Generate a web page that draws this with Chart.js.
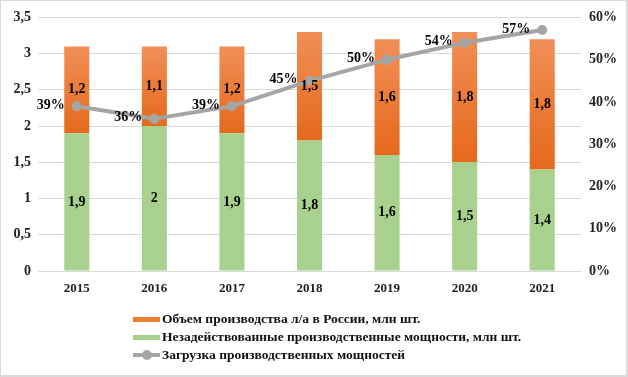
<!DOCTYPE html>
<html>
<head>
<meta charset="utf-8">
<script src="https://cdn.jsdelivr.net/npm/chart.js@4.4.1/dist/chart.umd.min.js"></script>
<style>
  html, body { margin: 0; padding: 0; background: #fff; }
  #wrap { position: relative; width: 628px; height: 377px; box-sizing: border-box; border: 2px solid #d9d9d9; border-left-width: 1px; border-top-width: 1px; }
  #chart { position: absolute; left: 0; top: 0; }
  #legend { position: absolute; left: 132px; top: 309px; font: bold 13.5px "Liberation Serif", "Times New Roman", serif; color: #111; }
  .item { height: 18px; line-height: 18px; display: flex; align-items: center; }
  .sw { width: 27px; height: 5px; margin-right: 2px; }
  .ln { width: 27px; height: 4px; margin-right: 2px; background: #a5a5a5; position: relative; }
  .ln::after { content: ''; position: absolute; left: 9px; top: -3px; width: 10px; height: 10px; border-radius: 50%; background: #a5a5a5; }
</style>
</head>
<body>
<div id="wrap">
  <canvas id="chart" width="625" height="374"></canvas>
  <div id="legend">
    <div class="item"><span class="sw" style="background:#ed7d31"></span>Объем производства л/а в России, млн шт.</div>
    <div class="item"><span class="sw" style="background:#a9d18e"></span>Незадействованные производственные мощности, млн шт.</div>
    <div class="item"><span class="ln"></span>Загрузка производственных мощностей</div>
  </div>
</div>
<script>
// ---- данные ----
const years = ['2015', '2016', '2017', '2018', '2019', '2020', '2021'];
const produced = [1.2, 1.1, 1.2, 1.5, 1.6, 1.8, 1.8];   // объем производства, млн шт.
const unused = [1.9, 2, 1.9, 1.8, 1.6, 1.5, 1.4];        // незадействованные мощности, млн шт.
const load = [39, 36, 39, 45, 50, 54, 57];               // загрузка, %

const labelFont = 'bold 14px "Liberation Serif", "Times New Roman", serif';
const fmt = v => String(v).replace('.', ',');

// градиент для оранжевых столбцов
function orangeFill(c) {
  const chart = c.chart;
  if (!chart.chartArea || c.type !== 'data') return '#ed7d31';
  const y = chart.scales.y;
  const i = c.dataIndex;
  const top = y.getPixelForValue(unused[i] + produced[i]);
  const bot = y.getPixelForValue(unused[i]);
  const g = chart.ctx.createLinearGradient(0, top, 0, bot);
  g.addColorStop(0, '#f18f57');
  g.addColorStop(1, '#e5691c');
  return g;
}

// подписи значений
const valueLabels = {
  id: 'valueLabels',
  afterDatasetsDraw(chart) {
    const ctx = chart.ctx;
    ctx.save();
    ctx.font = labelFont;
    ctx.fillStyle = '#000';
    chart.data.datasets.forEach((ds, di) => {
      const meta = chart.getDatasetMeta(di);
      meta.data.forEach((el, i) => {
        if (ds.type === 'line') {
          ctx.textAlign = 'right';
          ctx.textBaseline = 'middle';
          ctx.fillText(ds.data[i] + '%', el.x - 12, el.y - 1);
        } else {
          const p = el.getCenterPoint();
          ctx.textAlign = 'center';
          ctx.textBaseline = 'middle';
          ctx.fillText(fmt(ds.data[i]), p.x, p.y);
        }
      });
    });
    ctx.restore();
  }
};

const tickFont = { family: '"Liberation Serif", "Times New Roman", serif', size: 14, weight: 'bold' };

new Chart(document.getElementById('chart'), {
  data: {
    labels: years,
    datasets: [
      {
        type: 'line',
        label: 'Загрузка производственных мощностей',
        data: load,
        yAxisID: 'y1',
        borderColor: '#a5a5a5',
        backgroundColor: '#a5a5a5',
        borderWidth: 4,
        pointRadius: 5,
        pointBorderWidth: 0,
        tension: 0,
        order: 0
      },
      {
        type: 'bar',
        label: 'Незадействованные производственные мощности, млн шт.',
        data: unused,
        backgroundColor: '#a9d18e',
        barPercentage: 0.323,
        categoryPercentage: 1,
        order: 1
      },
      {
        type: 'bar',
        label: 'Объем производства л/а в России, млн шт.',
        data: produced,
        backgroundColor: orangeFill,
        barPercentage: 0.323,
        categoryPercentage: 1,
        order: 1
      }
    ]
  },
  options: {
    responsive: false,
    animation: false,
    layout: { padding: { top: 15, bottom: 77, left: 0, right: 0 } },
    plugins: { legend: { display: false }, tooltip: { enabled: false } },
    scales: {
      x: {
        stacked: true,
        grid: { display: false },
        border: { display: false },
        ticks: { color: '#222', font: { ...tickFont, size: 13 }, padding: 2 },
        afterFit: s => { s.height = 27; }
      },
      y: {
        stacked: true,
        min: 0, max: 3.5,
        position: 'left',
        grid: { color: '#d9d9d9', drawTicks: false, lineWidth: 1 },
        border: { display: false },
        ticks: { stepSize: 0.5, color: '#222', font: tickFont, padding: 7, callback: v => fmt(v) },
        afterFit: s => { s.width = 37; }
      },
      y1: {
        min: 0, max: 60,
        position: 'right',
        grid: { display: false, drawTicks: false },
        border: { display: false },
        ticks: { stepSize: 10, color: '#222', font: tickFont, padding: 8, callback: v => v + '%' },
        afterFit: s => { s.width = 45; }
      }
    }
  },
  plugins: [valueLabels]
});
</script>
</body>
</html>
